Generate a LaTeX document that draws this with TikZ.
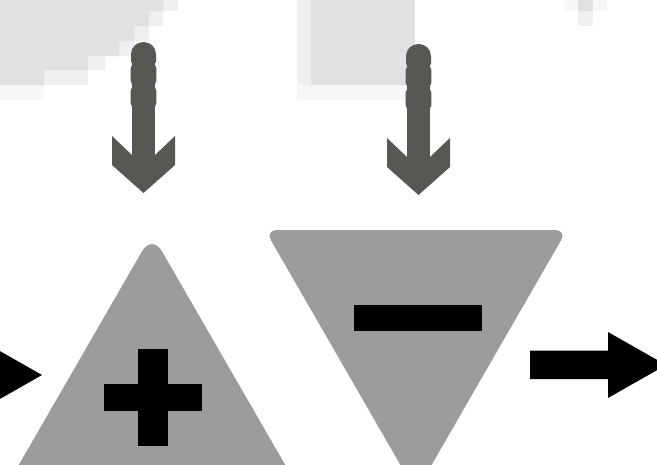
\documentclass[tikz,border=0pt]{standalone}
\usetikzlibrary{calc}
\definecolor{bgA}{HTML}{E1E1E1}
\definecolor{bgB}{HTML}{EFEFEF}
\definecolor{bgC}{HTML}{F7F7F7}
\definecolor{arrowgray}{HTML}{575754}
\definecolor{trigray}{HTML}{9B9C9B}
\tikzset{
  bgdark/.style={fill=bgA},
  bglight/.style={fill=bgB},
  bgfaint/.style={fill=bgC},
  trishape/.style={fill=trigray, rounded corners=12pt},
  signbar/.style={fill=black},
  flowarrow/.style={fill=black},
  inarrow/.style={fill=arrowgray},
  seg/.style={fill=arrowgray, rounded corners=4pt}
}
\newcommand{\downarrowshape}[2]{% #1 = centre x, #2 = y shift
  \fill[inarrow] ($(#1-11.5,60+#2)$) rectangle ($(#1+11.5,156+#2)$);
  \fill[inarrow] ($(#1-12.5,62.5+#2)$) -- ($(#1-12.5,54+#2)$) arc[start angle=180, end angle=360, x radius=12.5, y radius=12] -- ($(#1+12.5,62.5+#2)$) -- cycle;
  \fill[seg] ($(#1-12.8,64+#2)$) rectangle ($(#1+12.8,85+#2)$);
  \fill[seg] ($(#1-12.8,86.5+#2)$) rectangle ($(#1+12.8,107.5+#2)$);
  \fill[inarrow] ($(#1-11.5,155+#2)$) -- ($(#1-31.5,136+#2)$) -- ($(#1-31.5,165+#2)$) -- ($(#1,193+#2)$) -- ($(#1+31.5,165+#2)$) -- ($(#1+31.5,136+#2)$) -- ($(#1+11.5,155+#2)$) -- cycle;
}
\begin{document}
\begin{tikzpicture}[x=1pt,y=-1pt]
\useasboundingbox (0,0) rectangle (657,464);
\clip (0,0) rectangle (657,464);
% background, top left
\fill[bgfaint] (0,85) rectangle (44,100);
\fill[bglight] (0,0) -- (178,0) -- (178,11) -- (163,11) -- (163,26) -- (149,26) -- (149,41) -- (134,41) -- (134,56) -- (105,56) -- (105,70) -- (88,70) -- (88,85) -- (0,85) -- cycle;
\fill[bgdark] (0,0) -- (163,0) -- (163,11) -- (149,11) -- (149,26) -- (134,26) -- (134,41) -- (119,41) -- (119,56) -- (88,56) -- (88,70) -- (44,70) -- (44,85) -- (0,85) -- cycle;
% background, square
\fill[bgfaint] (297,85) rectangle (415,100);
\fill[bglight] (297,0) rectangle (311,85);
\fill[bgdark] (311,0) rectangle (415,85);
% background, top right
\fill[bgC] (564,0) rectangle (607,11);
\fill[bgB] (578,0) rectangle (593,26);
\fill[bgA] (578,0) rectangle (593,11);
% incoming arrows
\downarrowshape{143.5}{0}
\downarrowshape{418.5}{2}
% plus triangle
\fill[trishape, rounded corners=20pt] (152,234) -- (302,494) -- (2,494) -- cycle;
\fill[signbar] (138,349) rectangle (168,446);
\fill[signbar] (103.5,384) rectangle (202,411);
% minus triangle
\fill[trishape] (265,230) -- (567,230) -- (416,492) -- cycle;
\fill[signbar] (354,305) rectangle (482,331);
% flow arrows
\fill[flowarrow] (-80,362) rectangle (-16,389) (-16,342) -- (42,375) -- (-16,408) -- cycle;
\fill[flowarrow] (530,350.5) rectangle (608,379) (608,332) -- (666,365) -- (608,398) -- cycle;
\end{tikzpicture}
\end{document}
